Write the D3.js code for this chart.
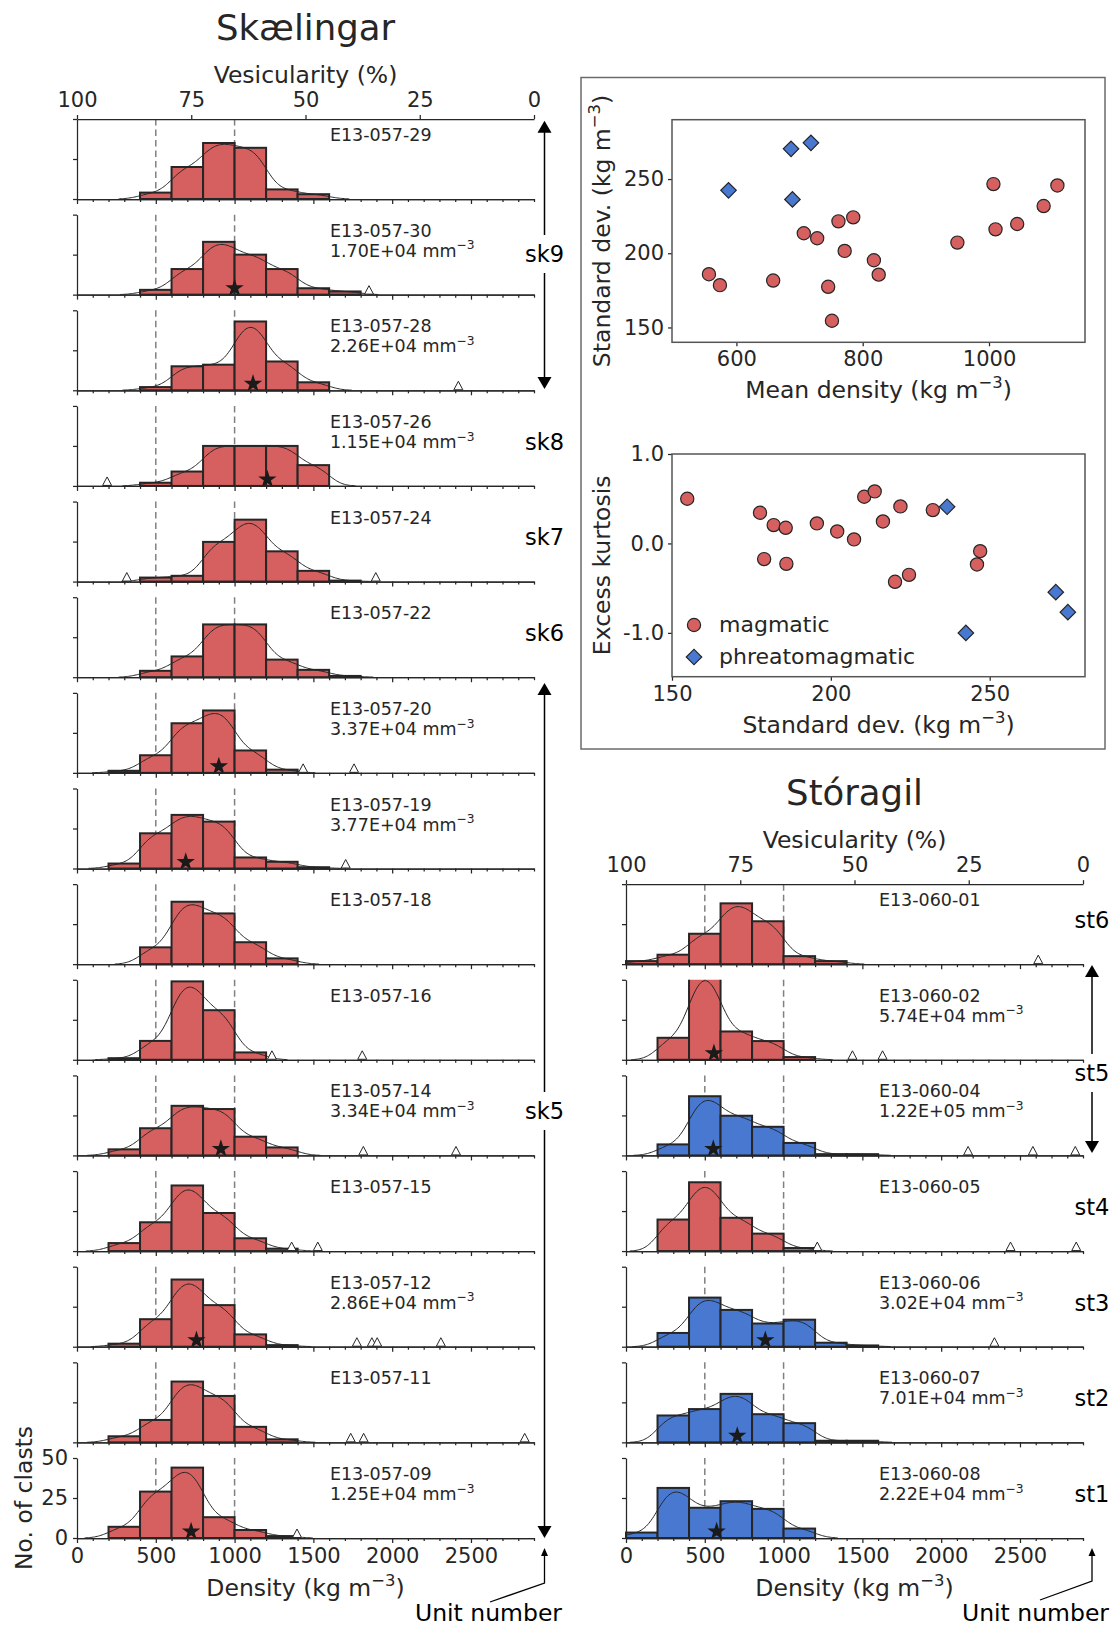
<!DOCTYPE html>
<html><head><meta charset="utf-8">
<script src="https://cdn.jsdelivr.net/npm/d3@7"></script>
<style>
body{margin:0;background:#fff}
text{font-family:"DejaVu Sans",sans-serif}
</style>
</head><body>
<svg id="c" width="1115" height="1627"></svg>
<script>
// ---------------- DATA ----------------
const binStarts = [0,200,400,600,800,1000,1200,1400,1600];
const binWidth = 200;
const densityTicks = [0,500,1000,1500,2000,2500];
const vesTicks = [100,75,50,25,0];
const countTicks = [0,25,50];
const refLines = [500,1000];

const skSamples = ["E13-057-29","E13-057-30","E13-057-28","E13-057-26","E13-057-24","E13-057-22","E13-057-20","E13-057-19","E13-057-18","E13-057-16","E13-057-14","E13-057-15","E13-057-12","E13-057-11","E13-057-09"];
const skConc = [null,"1.70E+04","2.26E+04","1.15E+04",null,null,"3.37E+04","3.77E+04",null,null,"3.34E+04",null,"2.86E+04",null,"1.25E+04"];
const skCounts = [
  [0,0,4,20,35,32,6,3,0],
  [0,0,3,16,33,25,16,4,2],
  [0,0,2,15,16,43,18,5,0],
  [0,0,2,9,25,25,25,13,0],
  [0,0,2.5,3.6,24.8,38.7,18.9,6.7,0.6],
  [0,0,4,13,33,33,11,4.6,0.8],
  [0,1.3,11,31,39,14,2,0,0],
  [0,3.1,22,33.5,29.3,6.9,4.2,0.8,0],
  [0,0,10.5,39,31.7,13.7,3.6,0,0],
  [0,1,11.8,49,31,4.6,0,0,0],
  [0,3.8,17,31,29,11.7,5,0,0],
  [0,5,18,41,23.8,8,1.5,0,0],
  [0,1.9,17.2,42,26,7.7,1,0,0],
  [0,3.8,14,38,29,9.7,1.9,0,0],
  [0,7,29,44,13,5,1.2,0,0]
];
const skStars = [null,1000,1117,1208,null,null,900,690,null,null,913,null,758,null,724];
const skOutliers = [[],[1853],[2420],[191],[316,1896],[],[1435,1758],[1705],[],[1237,1810],[1817,2405],[1362,1528],[1776,1871,1905,2309],[1737,1819,2841],[1396]];

const stSamples = ["E13-060-01","E13-060-02","E13-060-04","E13-060-05","E13-060-06","E13-060-07","E13-060-08"];
const stConc = [null,"5.74E+04","1.22E+05",null,"3.02E+04","7.01E+04","2.22E+04"];
const stType = ["magmatic","magmatic","phreatomagmatic","magmatic","phreatomagmatic","phreatomagmatic","phreatomagmatic"];
const stCounts = [
  [1.9,5.9,19,38,26.8,5,1.9,0,0],
  [0,13.75,55,17.7,11.7,1.7,0,0,0],
  [0,6.9,37,24.8,17.9,7.8,0.8,0.8,0],
  [0,19.7,43,20.8,10.9,1.9,0,0,0],
  [0,8.6,30.7,23,14.5,16.9,2.5,0.8,0],
  [0,16.8,20.8,30.3,17.6,12,1,1,0],
  [3.4,31.3,18.9,23,18.2,5.9,0,0,0]
];
const stStars = [null,558,554,null,884,706,575];
const stOutliers = [[2616],[1437,1628],[2171,2582,2851],[1214,2440,2857],[2338],[],[]];

// unit annotations: label, grid row it belongs to (or arrow span in px)
const skUnits = [
  {label:"sk9", arrow:[120.7,389], y:254},
  {label:"sk8", row:3},
  {label:"sk7", row:4},
  {label:"sk6", row:5},
  {label:"sk5", arrow:[683,1538], y:1111}
];
const stUnits = [
  {label:"st6", row:8},
  {label:"st5", arrow:[965,1153], y:1073},
  {label:"st4", row:11},
  {label:"st3", row:12},
  {label:"st2", row:13},
  {label:"st1", row:14}
];

// scatter data
const magMean = [556.5,573.9,658.2,706.7,727.9,761.6,785,771.4,745.3,751.3,817.7,825.3,949.9,1007,1010.3,1044.6,1086.5,1108.3];
const magStd1 = [185.9,178.5,181.6,213.5,210.1,221.5,224.2,201.6,177.4,154.5,195.3,185.6,207.2,246.6,216.1,219.7,231.8,245.7];
const phrMean = [686.5,718,587.5,688.7];
const phrStd1 = [270.4,274.4,242.4,236.3];
const magStd2 = [154.8,177.7,182,185.8,179,186,195.6,202,207.3,210.5,213.8,216.4,221.9,220.2,224.6,232.1,247,246];
const magKurt = [0.50,0.343,0.205,0.175,-0.175,-0.228,0.224,0.134,0.045,0.522,0.582,0.246,0.414,-0.429,-0.351,0.373,-0.086,-0.235];
const phrStd2 = [236.6,242.5,270.8,274.6];
const phrKurt = [0.41,-1.0,-0.545,-0.769];

// ---------------- DRAWING ----------------
const INK = "#262626";
const RED = "#d65f5f", BLUE = "#4878cf";
const svg = d3.select("#c");
svg.append("rect").attr("width",1115).attr("height",1627).attr("fill","#fff");
const defs = svg.append("defs");
const PANEL_H = 80;
const rowY = d3.scaleLinear().domain([0,14]).range([199,1538]);
const cols = {sk:{x0:77,x1:534}, st:{x0:626,x1:1083}};
const BW = 68;

function erf(x){const s=Math.sign(x);x=Math.abs(x);const t=1/(1+0.3275911*x);
  const y=1-(((((1.061405429*t-1.453152027)*t)+1.421413741)*t-0.284496736)*t+0.254829592)*t*Math.exp(-x*x);return s*y;}
const Phi = z => 0.5*(1+erf(z/Math.SQRT2));

function styleAxis(g, fs){
  g.attr("font-family",null).attr("font-size",null);
  g.select(".domain").attr("stroke",INK).attr("stroke-width",1.25);
  g.selectAll(".tick line").attr("stroke",INK).attr("stroke-width",1.25);
  g.selectAll(".tick text").attr("fill",INK).style("font-size",(fs||21)+"px");
}
function supText(t, before, sup, after, fs){
  t.append("tspan").text(before);
  t.append("tspan").attr("font-size",fs*0.7).attr("dy",-fs*0.42).text(sup);
  t.append("tspan").attr("dy",fs*0.42).text(after);
}

let clipN = 0;
function panel(col, row, name, conc, counts, color, star, outl, opts){
  const x = d3.scaleLinear().domain([0,2900]).range([col.x0,col.x1]);
  const base = rowY(row);
  const y = d3.scaleLinear().domain([0,50]).range([base, base-PANEL_H]);
  const g = svg.append("g");
  const cid = "clip"+(clipN++);
  defs.append("clipPath").attr("id",cid).append("rect")
    .attr("x",col.x0-2).attr("y",y(50)).attr("width",col.x1-col.x0+4).attr("height",PANEL_H+2);
  g.selectAll("line.ref").data(refLines).join("line")
    .attr("x1",d=>x(d)).attr("x2",d=>x(d)).attr("y1",y(0)).attr("y2",y(50))
    .attr("stroke","#808080").attr("stroke-width",1.5).attr("stroke-dasharray","6.5,4");
  const bars = binStarts.map((b,i)=>({b,c:counts[i]})).filter(d=>d.c>0);
  const cg = g.append("g").attr("clip-path",`url(#${cid})`);
  cg.selectAll("rect").data(bars).join("rect")
    .attr("x",d=>x(d.b)).attr("width",d=>x(d.b+binWidth)-x(d.b))
    .attr("y",d=>y(d.c)).attr("height",d=>y(0)-y(d.c))
    .attr("fill",color).attr("stroke",INK).attr("stroke-width",2);
  // smoothed density curve derived from the histogram
  const xs = d3.range(0,2901,8);
  const kde = xs.map(v=>[v, d3.sum(bars, d=>d.c*(Phi((v-d.b)/BW)-Phi((v-d.b-binWidth)/BW)))]);
  cg.append("path").datum(kde)
    .attr("d", d3.line().defined(d=>d[1]>0.08).x(d=>x(d[0])).y(d=>y(d[1])).curve(d3.curveBasis))
    .attr("fill","none").attr("stroke",INK).attr("stroke-width",1);
  g.selectAll("path.tri").data(outl).join("path")
    .attr("d",d=>`M${x(d)-4.5},${y(0)-0.5}L${x(d)+4.5},${y(0)-0.5}L${x(d)},${y(0)-9}Z`)
    .attr("fill","#fff").attr("stroke",INK).attr("stroke-width",1);
  if(star!=null){
    g.append("path").attr("d",d3.symbol(d3.symbolStar,105)())
      .attr("transform",`translate(${x(star)},${y(0)-6.5})`).attr("fill","#1a1a1a");
  }
  const minor = d3.range(0,2901,100).filter(v=>v%500!==0);
  const gb1 = g.append("g").attr("transform",`translate(0,${base})`)
    .call(d3.axisBottom(x).tickValues(minor).tickSize(3).tickSizeOuter(0).tickFormat(""));
  styleAxis(gb1);
  const gb = g.append("g").attr("transform",`translate(0,${base})`)
    .call(d3.axisBottom(x).tickValues(densityTicks).tickSize(5).tickSizeOuter(0).tickPadding(5)
      .tickFormat(opts.bottom? d3.format("d") : ""));
  styleAxis(gb);
  const gl = g.append("g").attr("transform",`translate(${col.x0},0)`)
    .call(d3.axisLeft(y).tickValues(countTicks).tickSize(4).tickSizeOuter(0).tickPadding(5)
      .tickFormat(opts.ylab? d3.format("d") : ""));
  styleAxis(gl);
  if(opts.top){
    const vx = d3.scaleLinear().domain([100,0]).range([col.x0,col.x1]);
    const gt = g.append("g").attr("transform",`translate(0,${y(50)})`)
      .call(d3.axisTop(vx).tickValues(vesTicks).tickSize(4).tickSizeOuter(0).tickPadding(8).tickFormat(d3.format("d")));
    styleAxis(gt);
  }
  const tx = x(1605);
  g.append("text").attr("x",tx).attr("y",y(50)+22).attr("fill",INK).style("font-size","17.5px").text(name);
  if(conc){
    const t = g.append("text").attr("x",tx).attr("y",y(50)+42).attr("fill",INK).style("font-size","17.5px");
    supText(t, conc+" mm", "\u22123", "", 17.5);
  }
}

skSamples.forEach((s,i)=>panel(cols.sk, i, s, skConc[i], skCounts[i], RED, skStars[i], skOutliers[i],
  {top:i===0, bottom:i===skSamples.length-1, ylab:i===skSamples.length-1}));
stSamples.forEach((s,i)=>panel(cols.st, i+8, s, stConc[i], stCounts[i], stType[i]==="magmatic"?RED:BLUE, stStars[i], stOutliers[i],
  {top:i===0, bottom:i===stSamples.length-1, ylab:false}));

function colTexts(col, title, topAxisY){
  const cx = (col.x0+col.x1)/2;
  svg.append("text").attr("x",cx).attr("y",topAxisY-79.5).attr("text-anchor","middle").attr("fill",INK)
    .style("font-size","35.5px").text(title);
  svg.append("text").attr("x",cx).attr("y",topAxisY-36).attr("text-anchor","middle").attr("fill",INK)
    .style("font-size","23.5px").text("Vesicularity (%)");
  const t = svg.append("text").attr("x",cx).attr("y",1596).attr("text-anchor","middle").attr("fill",INK).style("font-size","23.5px");
  supText(t,"Density (kg m","\u22123",")",23.5);
}
colTexts(cols.sk,"Skælingar",rowY(0)-PANEL_H);
colTexts(cols.st,"Stóragil",rowY(8)-PANEL_H);
svg.append("text").attr("transform",`translate(32,${rowY(14)-PANEL_H/2}) rotate(-90)`).attr("text-anchor","middle")
  .attr("fill",INK).style("font-size","23.5px").text("No. of clasts");

function arrowHead(x, tip, dir, hw, len){
  return `M${x},${tip}L${x-hw},${tip-dir*len}L${x+hw},${tip-dir*len}Z`;
}
function units(list, ax){
  list.forEach(u=>{
    const ly = u.arrow ? u.y : rowY(u.row)-44;
    svg.append("text").attr("x",ax).attr("y",ly).attr("dy","0.35em").attr("text-anchor","middle")
      .attr("fill","#000").style("font-size","22.5px").text(u.label);
    if(u.arrow){
      const [t0,t1] = u.arrow;
      svg.append("line").attr("x1",ax).attr("x2",ax).attr("y1",t0+10).attr("y2",ly-19).attr("stroke","#000").attr("stroke-width",1.5);
      svg.append("line").attr("x1",ax).attr("x2",ax).attr("y1",ly+19).attr("y2",t1-10).attr("stroke","#000").attr("stroke-width",1.5);
      svg.append("path").attr("d",arrowHead(ax,t0,-1,7,12)).attr("fill","#000");
      svg.append("path").attr("d",arrowHead(ax,t1,1,7,12)).attr("fill","#000");
    }
  });
}
units(skUnits, 544.5);
units(stUnits, 1092);
function unitNumber(ax, lx, ly, textX){
  svg.append("path").attr("d",`M${lx},${ly}L${ax},${ly-19}L${ax},1555`).attr("fill","none").attr("stroke","#000").attr("stroke-width",1.3);
  svg.append("path").attr("d",arrowHead(ax,1548,-1,3.5,8)).attr("fill","#000");
  svg.append("text").attr("x",textX).attr("y",1621).attr("fill","#000").style("font-size","23.5px").text("Unit number");
}
unitNumber(544.5, 490, 1602, 415);
unitNumber(1092, 1040, 1600, 962);

// ---------------- scatter plots ----------------
svg.append("rect").attr("x",581).attr("y",77.5).attr("width",524).attr("height",671.5)
  .attr("fill","none").attr("stroke","#6b6b6b").attr("stroke-width",1.5);

function scatter(top, bottom, xd, yd, xt, yt, yfmt, xlabel, ylabel, mx, my, px, py, legend){
  const L=672, R=1085;
  const x = d3.scaleLinear().domain(xd).range([L,R]);
  const y = d3.scaleLinear().domain(yd).range([bottom,top]);
  const g = svg.append("g");
  const gx = g.append("g").attr("transform",`translate(0,${bottom})`)
    .call(d3.axisBottom(x).tickValues(xt).tickSize(4).tickPadding(5).tickSizeOuter(0).tickFormat(d3.format("d")));
  styleAxis(gx); gx.select(".domain").remove();
  const gy = g.append("g").attr("transform",`translate(${L},0)`)
    .call(d3.axisLeft(y).tickValues(yt).tickSize(4).tickPadding(4).tickSizeOuter(0).tickFormat(yfmt));
  styleAxis(gy); gy.select(".domain").remove();
  g.append("rect").attr("x",L).attr("y",top).attr("width",R-L).attr("height",bottom-top)
    .attr("fill","none").attr("stroke","#555").attr("stroke-width",1.5);
  const mag = mx.map((v,i)=>[v,my[i]]);
  const phr = px.map((v,i)=>[v,py[i]]);
  g.selectAll("circle.m").data(mag).join("circle").attr("cx",d=>x(d[0])).attr("cy",d=>y(d[1])).attr("r",6.6)
    .attr("fill",RED).attr("stroke",INK).attr("stroke-width",1.2);
  g.selectAll("path.p").data(phr).join("path").attr("d",d3.symbol(d3.symbolSquare,120)())
    .attr("transform",d=>`translate(${x(d[0])},${y(d[1])}) rotate(45)`)
    .attr("fill",BLUE).attr("stroke",INK).attr("stroke-width",1.2);
  const xl = g.append("text").attr("x",(L+R)/2).attr("y",bottom+56).attr("text-anchor","middle").attr("fill",INK).style("font-size","23.5px");
  if(xlabel.sup) supText(xl, xlabel.a, "\u22123", ")", 23.5); else xl.text(xlabel.a);
  const yl = g.append("text").attr("transform",`translate(610,${(top+bottom)/2}) rotate(-90)`).attr("text-anchor","middle").attr("fill",INK).style("font-size","23.5px");
  if(ylabel.sup) supText(yl, ylabel.a, "\u22123", ")", 23.5); else yl.text(ylabel.a);
  if(legend){
    g.append("circle").attr("cx",694).attr("cy",625).attr("r",6.6).attr("fill",RED).attr("stroke",INK).attr("stroke-width",1.2);
    g.append("path").attr("d",d3.symbol(d3.symbolSquare,120)()).attr("transform","translate(694,657) rotate(45)")
      .attr("fill",BLUE).attr("stroke",INK).attr("stroke-width",1.2);
    g.append("text").attr("x",719).attr("y",625).attr("dy","0.32em").attr("fill",INK).style("font-size","22px").text("magmatic");
    g.append("text").attr("x",719).attr("y",657).attr("dy","0.32em").attr("fill",INK).style("font-size","22px").text("phreatomagmatic");
  }
}
scatter(119.7, 342.3, [498,1152], [140,290], [600,800,1000], [150,200,250], d3.format("d"),
  {a:"Mean density (kg m",sup:true}, {a:"Standard dev. (kg m",sup:true},
  magMean, magStd1, phrMean, phrStd1, false);
scatter(454, 676.7, [150,280], [-1.49,1.0], [150,200,250], [-1,0,1], d=>d.toFixed(1),
  {a:"Standard dev. (kg m",sup:true}, {a:"Excess kurtosis",sup:false},
  magStd2, magKurt, phrStd2, phrKurt, true);
</script>
</body></html>
